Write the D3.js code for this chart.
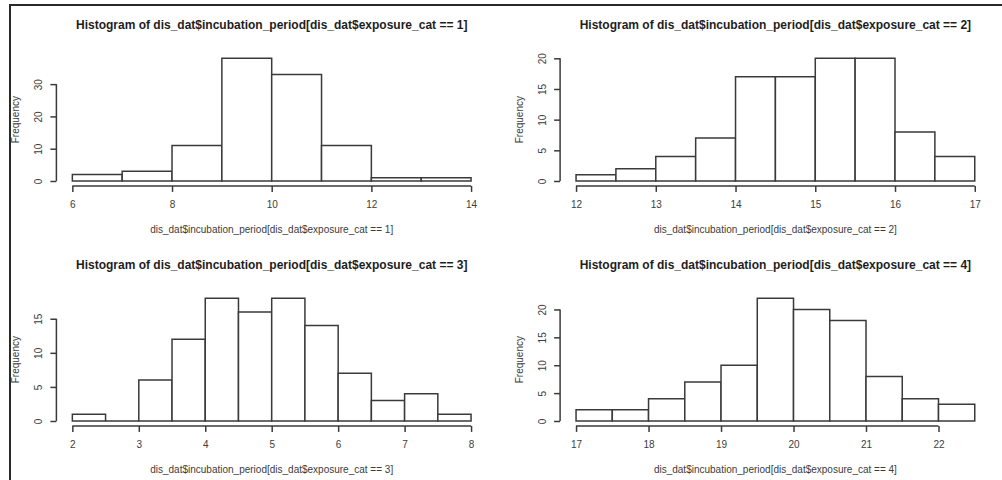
<!DOCTYPE html>
<html>
<head>
<meta charset="utf-8">
<script src="https://cdn.jsdelivr.net/npm/d3@7"></script>
<style>
  html, body { margin: 0; padding: 0; background: #fff; }
  svg { display: block; font-family: "Liberation Sans", Arial, sans-serif; }
</style>
</head>
<body>
<div id="chart"></div>
<script>
// four R-style histograms of incubation period by exposure category

const WIDTH = 1002;
const HEIGHT = 480;

// exposure_cat == 1
const cat1Breaks = [6, 7, 8, 9, 10, 11, 12, 13, 14];
const cat1Counts = [2, 3, 11, 38, 33, 11, 1, 1];
const cat1XTicks = [6, 8, 10, 12, 14];
const cat1YTicks = [0, 10, 20, 30];

// exposure_cat == 2
const cat2Breaks = [12, 12.5, 13, 13.5, 14, 14.5, 15, 15.5, 16, 16.5, 17];
const cat2Counts = [1, 2, 4, 7, 17, 17, 20, 20, 8, 4];
const cat2XTicks = [12, 13, 14, 15, 16, 17];
const cat2YTicks = [0, 5, 10, 15, 20];

// exposure_cat == 3
const cat3Breaks = [2, 2.5, 3, 3.5, 4, 4.5, 5, 5.5, 6, 6.5, 7, 7.5, 8];
const cat3Counts = [1, 0, 6, 12, 18, 16, 18, 14, 7, 3, 4, 1];
const cat3XTicks = [2, 3, 4, 5, 6, 7, 8];
const cat3YTicks = [0, 5, 10, 15];

// exposure_cat == 4
const cat4Breaks = [17, 17.5, 18, 18.5, 19, 19.5, 20, 20.5, 21, 21.5, 22, 22.5];
const cat4Counts = [2, 2, 4, 7, 10, 22, 20, 18, 8, 4, 3];
const cat4XTicks = [17, 18, 19, 20, 21, 22];
const cat4YTicks = [0, 5, 10, 15, 20];

const panels = [
  { cat: 1, breaks: cat1Breaks, counts: cat1Counts, xTicks: cat1XTicks, yTicks: cat1YTicks, col: 0, row: 0 },
  { cat: 2, breaks: cat2Breaks, counts: cat2Counts, xTicks: cat2XTicks, yTicks: cat2YTicks, col: 1, row: 0 },
  { cat: 3, breaks: cat3Breaks, counts: cat3Counts, xTicks: cat3XTicks, yTicks: cat3YTicks, col: 0, row: 1 },
  { cat: 4, breaks: cat4Breaks, counts: cat4Counts, xTicks: cat4XTicks, yTicks: cat4YTicks, col: 1, row: 1 }
];

// plot region of the top-left panel, other panels are shifted copies
const PLOT_X0 = 56.4, PLOT_X1 = 487;
const PLOT_Y0 = 53.4, PLOT_Y1 = 185.9;
const COL_STEP = 503.7;
const ROW_STEP = 240;

const INK = "#3a3a3a";
const TEXT = "#3c3c3c";

const svg = d3.select("#chart")
  .append("svg")
  .attr("width", WIDTH)
  .attr("height", HEIGHT);

// outer frame (only top and left edges are visible)
svg.append("line").attr("x1", 9).attr("x2", WIDTH).attr("y1", 5).attr("y2", 5)
  .attr("stroke", "#2a2a2a").attr("stroke-width", 2);
svg.append("line").attr("x1", 10).attr("x2", 10).attr("y1", 4).attr("y2", HEIGHT)
  .attr("stroke", "#2a2a2a").attr("stroke-width", 2);

panels.forEach(p => {
  const x0 = PLOT_X0 + p.col * COL_STEP;
  const x1 = PLOT_X1 + p.col * COL_STEP;
  const y0 = PLOT_Y0 + p.row * ROW_STEP;
  const y1 = PLOT_Y1 + p.row * ROW_STEP;

  const bMin = p.breaks[0];
  const bMax = p.breaks[p.breaks.length - 1];
  const pad = 0.04 * (bMax - bMin);
  const x = d3.scaleLinear().domain([bMin - pad, bMax + pad]).range([x0, x1]);

  const maxCount = d3.max(p.counts);
  const y = d3.scaleLinear().domain([-0.04 * maxCount, 1.04 * maxCount]).range([y1, y0]);

  const g = svg.append("g").attr("class", "panel");

  // bars (paths so that empty bins still show as a line on the baseline)
  const bins = p.counts.map((c, i) => ({ lo: p.breaks[i], hi: p.breaks[i + 1], count: c }));
  g.selectAll("path.bar")
    .data(bins)
    .enter()
    .append("path")
    .attr("class", "bar")
    .attr("d", d => `M${x(d.lo)},${y(0)}V${y(d.count)}H${x(d.hi)}V${y(0)}Z`)
    .attr("fill", "#fff")
    .attr("stroke", INK)
    .attr("stroke-width", 1.5);

  // x axis
  const xAxis = g.append("g")
    .attr("transform", `translate(0,${y1})`)
    .call(d3.axisBottom(x).tickValues(p.xTicks).tickSize(6).tickPadding(6).tickFormat(d3.format("")));
  xAxis.select(".domain").remove();
  xAxis.append("line")
    .attr("x1", x(p.xTicks[0])).attr("x2", x(p.xTicks[p.xTicks.length - 1]))
    .attr("stroke", INK).attr("stroke-width", 1.5);
  xAxis.selectAll(".tick line").attr("stroke", INK).attr("stroke-width", 1.5);
  xAxis.selectAll(".tick text")
    .attr("fill", TEXT).attr("font-size", 10)
    .attr("y", 18.5).attr("dy", null).attr("dominant-baseline", "central");

  // y axis, labels parallel to the axis like R's default
  const yAxis = g.append("g")
    .attr("transform", `translate(${x0},0)`)
    .call(d3.axisLeft(y).tickValues(p.yTicks).tickSize(6));
  yAxis.select(".domain").remove();
  yAxis.append("line")
    .attr("y1", y(p.yTicks[0])).attr("y2", y(p.yTicks[p.yTicks.length - 1]))
    .attr("stroke", INK).attr("stroke-width", 1.5);
  yAxis.selectAll(".tick line").attr("stroke", INK).attr("stroke-width", 1.5);
  yAxis.selectAll(".tick text")
    .attr("fill", TEXT).attr("font-size", 10)
    .attr("transform", "rotate(-90)")
    .attr("x", 0).attr("y", -17.5).attr("dy", null)
    .attr("text-anchor", "middle")
    .attr("dominant-baseline", "central");

  // titles
  const label = `dis_dat$incubation_period[dis_dat$exposure_cat == ${p.cat}]`;
  g.append("text")
    .attr("x", (x0 + x1) / 2).attr("y", y0 - 28.5)
    .attr("text-anchor", "middle").attr("dominant-baseline", "central")
    .attr("font-size", 12).attr("font-weight", "bold").attr("fill", "#1e1e1e")
    .text(`Histogram of ${label}`);

  g.append("text")
    .attr("x", (x0 + x1) / 2).attr("y", y1 + 43.5)
    .attr("text-anchor", "middle").attr("dominant-baseline", "central")
    .attr("font-size", 10).attr("fill", TEXT)
    .text(label);

  g.append("text")
    .attr("transform", `translate(${x0 - 41},${(y0 + y1) / 2}) rotate(-90)`)
    .attr("text-anchor", "middle").attr("dominant-baseline", "central")
    .attr("font-size", 10).attr("fill", TEXT)
    .text("Frequency");
});
</script>
</body>
</html>
